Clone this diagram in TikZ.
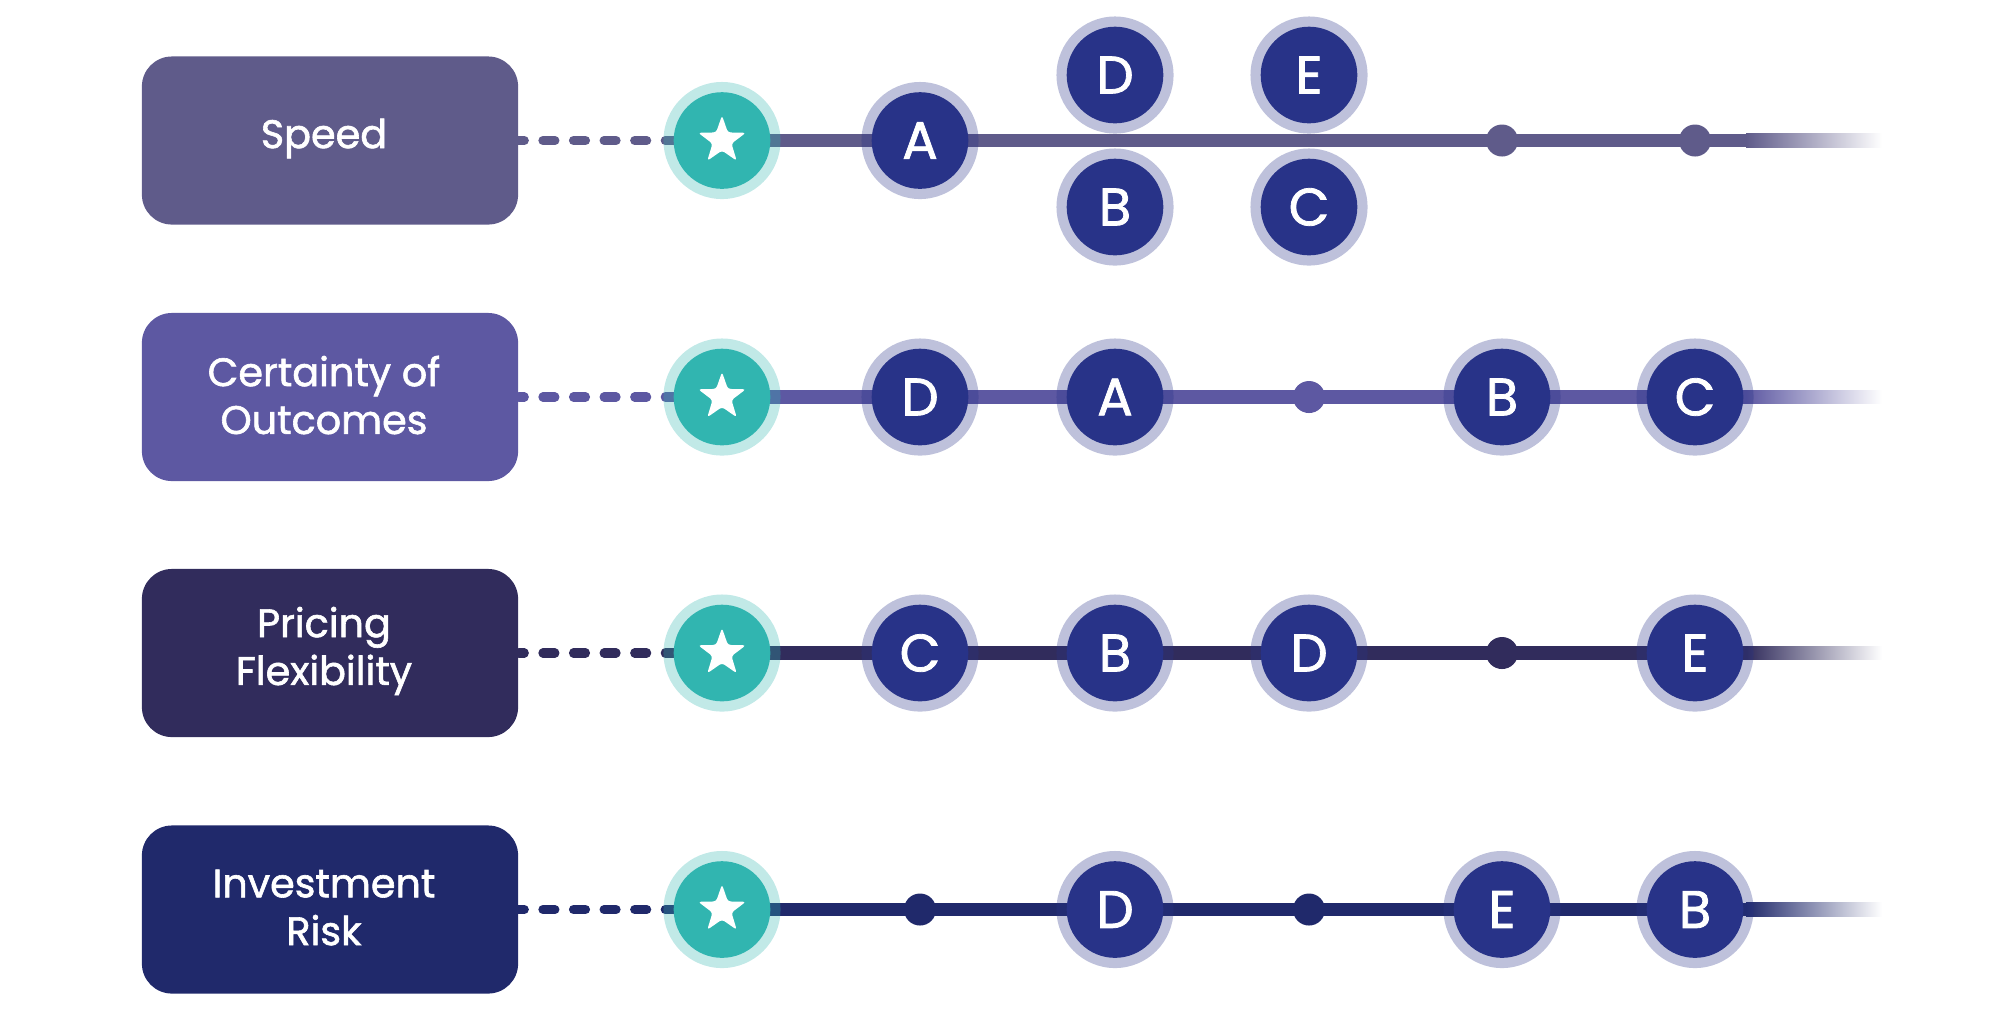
\documentclass[tikz,border=0pt]{standalone}
\usepackage{fontspec}
\setmainfont{Poppins}
\newfontfamily\labfont{Poppins}[FakeBold=1.5]
\usetikzlibrary{shapes.geometric}
\definecolor{rowA}{HTML}{5F5B8A}
\definecolor{rowB}{HTML}{5D58A2}
\definecolor{rowC}{HTML}{312C5C}
\definecolor{rowD}{HTML}{20296B}
\definecolor{ndark}{HTML}{283388}
\definecolor{startc}{HTML}{31B5B0}
\tikzset{
  catbox/.style={rounded corners=0.3cm, minimum width=3.76cm, minimum height=1.68cm, inner sep=0pt},
  cattext/.style={inner sep=0pt, text=white, align=center, font=\labfont\fontsize{11.3}{13.6}\selectfont},
  dashline/.style={line width=2.6pt, line cap=round, dash pattern=on 3.41pt off 5.29pt, dash phase=1.85pt},
  solidline/.style={line width=3.8pt},
  halo/.style={circle, inner sep=0pt, minimum size=1.17cm, fill opacity=0.3},
  optnode/.style={circle, inner sep=0pt, minimum size=0.966cm, fill=ndark, text=white,
    font=\labfont\fontsize{15}{15}\selectfont},
  startnode/.style={circle, inner sep=0pt, minimum size=0.966cm, fill=startc},
  starshape/.style={star, star points=5, star point ratio=2.5, fill=white, inner sep=0pt,
    minimum size=0.5cm, rounded corners=0.8pt},
  dotnode/.style={circle, inner sep=0pt, minimum size=0.32cm}
}
\newcommand\catrow[4]{% id, y, colour, label
  \node[catbox, fill=#3] (#1box) at (330,#2) {};
  \node[cattext] (#1lab) at (324,#2-2) {#4};
  \coordinate (#1s) at (722,#2);
  \coordinate (#1fade) at (1748,#2);
  \coordinate (#1end) at (1882,#2);
  \draw[dashline, #3] (#1box.east) -- (#1s);
  \draw[solidline, #3] (#1s) -- (#1fade);
  \shade[left color=#3, right color=white] (1746,#2-6.7) rectangle (1882,#2+6.7);
  \node[halo, fill=startc] (#1sh) at (#1s) {};
  \node[startnode] (#1st) at (#1s) {};
  \node[starshape] (#1star) at (#1s) {};
}
\newcommand\optc[4]{% name, x, y, letter
  \node[halo, fill=ndark] (#1h) at (#2,#3) {};
  \node[optnode] (#1) at (#2,#3) {#4};
}
\newcommand\dotc[4]{% name, x, y, colour
  \node[dotnode, fill=#4] (#1) at (#2,#3) {};
}
\begin{document}
\begin{tikzpicture}[x=0.01cm, y=-0.01cm]
\useasboundingbox (0,0) rectangle (2000,1023);
% row 1
\catrow{ra}{140.5}{rowA}{Speed}
\optc{raA}{920}{140.5}{A}
\optc{raD}{1115}{75}{D}
\optc{raB}{1115}{207}{B}
\optc{raE}{1309}{75}{E}
\optc{raC}{1309}{207}{C}
\dotc{ra5}{1502}{140.5}{rowA}
\dotc{ra6}{1695}{140.5}{rowA}
% row 2
\catrow{rb}{397}{rowB}{Certainty of\\Outcomes}
\optc{rbD}{920}{397}{D}
\optc{rbA}{1115}{397}{A}
\dotc{rb4}{1309}{397}{rowB}
\optc{rbB}{1502}{397}{B}
\optc{rbC}{1695}{397}{C}
% row 3
\catrow{rc}{653}{rowC}{Pricing\\Flexibility}
\optc{rcC}{920}{653}{C}
\optc{rcB}{1115}{653}{B}
\optc{rcD}{1309}{653}{D}
\dotc{rc5}{1502}{653}{rowC}
\optc{rcE}{1695}{653}{E}
% row 4
\catrow{rd}{909.5}{rowD}{Investment\\Risk}
\dotc{rd2}{920}{909.5}{rowD}
\optc{rdD}{1115}{909.5}{D}
\dotc{rd4}{1309}{909.5}{rowD}
\optc{rdE}{1502}{909.5}{E}
\optc{rdB}{1695}{909.5}{B}
\end{tikzpicture}
\end{document}
